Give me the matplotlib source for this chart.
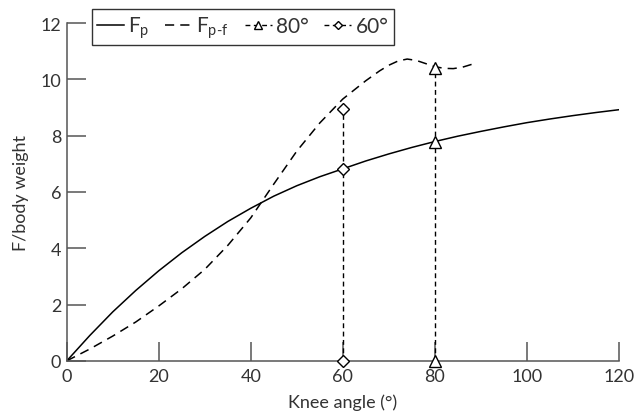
import matplotlib
matplotlib.use("Agg")
import matplotlib.pyplot as plt

plt.rcParams["font.family"] = ["Lato", "DejaVu Sans"]
plt.rcParams["mathtext.fontset"] = "custom"
plt.rcParams["mathtext.rm"] = "Lato"
plt.rcParams["mathtext.it"] = "Lato"

INK = "#333333"
AXIS = "#555555"

# knee angle (deg) vs force / body weight
fp_angle = [0, 5, 10, 15, 20, 25, 30, 35, 40, 45, 50, 55, 60, 65, 70, 75,
            80, 85, 90, 95, 100, 105, 110, 115, 120]
fp_force = [0, 0.9, 1.74, 2.5, 3.2, 3.84, 4.42, 4.95, 5.42, 5.85, 6.22, 6.54,
            6.82, 7.1, 7.35, 7.58, 7.79, 7.98, 8.15, 8.31, 8.46, 8.59, 8.71,
            8.82, 8.92]

fpf_angle = [0, 5, 10, 15, 20, 25, 30, 35, 40, 45, 50, 55, 60, 65, 68, 70,
             72, 74, 76, 78, 80, 82, 84, 86, 88, 89]
fpf_force = [0, 0.42, 0.88, 1.38, 1.95, 2.56, 3.25, 4.1, 5.08, 6.28, 7.45,
             8.45, 9.3, 9.95, 10.3, 10.5, 10.65, 10.72, 10.67, 10.56, 10.45,
             10.39, 10.38, 10.43, 10.53, 10.6]

a80_angle = [80, 80, 80]
a80_force = [0, 7.79, 10.39]
a60_angle = [60, 60, 60]
a60_force = [0, 6.82, 8.93]

x_ticks = [0, 20, 40, 60, 80, 100, 120]
y_ticks = [0, 2, 4, 6, 8, 10, 12]

fig = plt.figure(figsize=(6.36, 4.14), dpi=100)
ax = fig.add_axes([0.105, 0.126, 0.868, 0.816])

ax.plot(fp_angle, fp_force, color="black", lw=1.1, label="F$_\\mathrm{p}$")
ax.plot(fpf_angle, fpf_force, color="black", lw=1.1, dashes=(6, 4),
        label="F$_\\mathrm{p\u2010f}$")
ax.plot(a80_angle, a80_force, color="black", lw=1.0, dashes=(3.5, 2.5),
        marker="^", ms=8, mfc="white", mec="black", mew=1.0,
        clip_on=False, zorder=4, label="80°")
ax.plot(a60_angle, a60_force, color="black", lw=1.0, dashes=(3.5, 2.5),
        marker="D", ms=6.5, mfc="white", mec="black", mew=1.0,
        clip_on=False, zorder=4, label="60°")

ax.set_xlim(0, 120)
ax.set_ylim(0, 12)
ax.set_xticks(x_ticks)
ax.set_yticks(y_ticks)
for s in ["top", "right"]:
    ax.spines[s].set_visible(False)
for s in ["left", "bottom"]:
    ax.spines[s].set_color(AXIS)
    ax.spines[s].set_linewidth(1.1)
ax.tick_params(direction="in", length=14, width=1.1, color=AXIS,
               labelsize=13, labelcolor=INK)
ax.tick_params(axis="x", pad=5)
ax.tick_params(axis="y", pad=4)

ax.set_xlabel("Knee angle (°)", fontsize=13, color=INK, labelpad=7)
ax.set_ylabel("F/body weight", fontsize=13, color=INK, labelpad=8)

leg = ax.legend(loc="upper left", bbox_to_anchor=(0.045, 1.04), ncol=4,
                frameon=True, fancybox=False, fontsize=15, handlelength=1.3,
                handletextpad=0.2, columnspacing=0.75, borderpad=0.25,
                borderaxespad=0, markerscale=0.7)
leg.get_frame().set_edgecolor("black")
leg.get_frame().set_linewidth(1.0)
for t in leg.get_texts():
    t.set_color(INK)

fig.savefig("out.png", dpi=100, facecolor="white")
